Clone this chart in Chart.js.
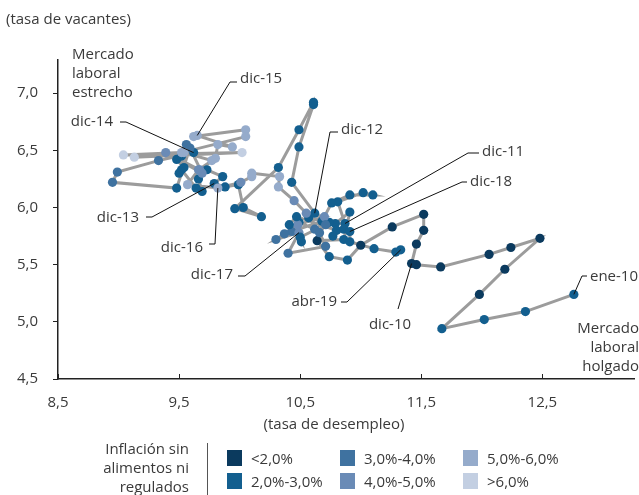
<!DOCTYPE html>
<html lang="es">
<head>
<meta charset="utf-8">
<script src="https://cdn.jsdelivr.net/npm/chart.js@4.4.1/dist/chart.umd.min.js"></script>
<style>
  html, body { margin: 0; padding: 0; background: #fff; }
  #curvaBeveridge { display: block; }
</style>
</head>
<body>
<canvas id="curvaBeveridge" width="639" height="495"></canvas>
<script>
// ene-10 ... abr-19, mensual
const desempleo = [
    12.76, 12.36, 12.02, 11.67, 11.98, 12.19, 12.48, 12.24, 12.06, 11.66, 11.46, 11.42,
    11.46, 11.52, 11.52, 11.26, 11.00, 10.89, 10.74, 10.64, 10.86, 10.91, 10.79, 10.87,
    10.81, 11.02, 11.10, 10.91, 10.76, 10.68, 10.43, 10.49, 10.62, 10.74, 10.57, 10.62,
    10.43, 10.49, 10.61, 10.61, 10.49, 10.32, 9.96, 10.18, 10.03, 9.99, 9.88, 9.79,
    9.86, 9.73, 9.66, 9.69, 9.64, 9.52, 9.50, 9.54, 9.48, 9.52, 9.56, 9.62,
    9.33, 8.99, 8.95, 9.48, 9.59, 9.69, 9.39, 9.67, 9.80, 9.82, 9.94, 9.65,
    9.62, 10.05, 10.05, 9.52, 9.04, 10.02, 9.13, 9.54, 9.77, 9.66, 9.57, 9.82,
    10.01, 10.10, 10.10, 10.33, 10.32, 10.45, 10.55, 10.70, 10.48, 10.37, 10.30, 10.49,
    10.40, 10.71, 10.66, 10.71, 10.50, 10.51, 10.41, 10.47, 10.80, 10.77, 10.86, 10.91,
    10.91, 11.11, 11.29, 11.33
];

const vacantes = [
    5.24, 5.09, 5.02, 4.94, 5.24, 5.46, 5.73, 5.65, 5.59, 5.48, 5.50, 5.51,
    5.68, 5.80, 5.94, 5.83, 5.67, 5.54, 5.57, 5.71, 5.72, 5.96, 5.86, 5.86,
    6.05, 6.13, 6.11, 6.11, 6.04, 5.88, 5.79, 5.87, 5.81, 5.87, 5.91, 5.95,
    6.22, 6.53, 6.90, 6.92, 6.68, 6.35, 5.99, 5.92, 6.00, 6.20, 6.18, 6.21,
    6.27, 6.33, 6.25, 6.14, 6.17, 6.33, 6.30, 6.35, 6.42, 6.45, 6.55, 6.48,
    6.41, 6.31, 6.22, 6.17, 6.52, 6.30, 6.48, 6.33, 6.43, 6.55, 6.53, 6.63,
    6.62, 6.68, 6.62, 6.48, 6.46, 6.48, 6.44, 6.48, 6.41, 6.33, 6.20, 6.17,
    6.22, 6.27, 6.30, 6.27, 6.18, 6.06, 5.95, 5.92, 5.85, 5.77, 5.72, 5.78,
    5.60, 5.66, 5.78, 5.85, 5.74, 5.70, 5.85, 5.92, 5.80, 5.75, 5.81, 5.79,
    5.70, 5.64, 5.61, 5.63
];

// indice del rango de inflacion de cada mes
const rangoMes = [
    1, 1, 1, 1, 0, 0, 0, 0, 0, 0, 0, 0,
    0, 0, 0, 0, 0, 1, 1, 0, 1, 1, 1, 1,
    1, 1, 1, 1, 1, 1, 2, 1, 2, 1, 1, 1,
    1, 1, 1, 1, 1, 1, 1, 1, 1, 1, 1, 1,
    1, 1, 1, 1, 1, 1, 1, 1, 1, 1, 2, 1,
    2, 2, 2, 1, 2, 3, 3, 3, 4, 4, 4, 4,
    4, 4, 4, 4, 5, 5, 5, 4, 4, 3, 4, 4,
    3, 4, 4, 4, 4, 3, 3, 3, 3, 2, 2, 3,
    2, 2, 2, 2, 1, 1, 1, 1, 1, 1, 1, 1,
    1, 1, 1, 1
];

const rangosInflacion = ['<2,0%', '2,0%-3,0%', '3,0%-4,0%', '4,0%-5,0%', '5,0%-6,0%', '>6,0%'];
const ticksX = [8.5, 9.5, 10.5, 11.5, 12.5];
const ticksY = [4.5, 5.0, 5.5, 6.0, 6.5, 7.0];

const etiquetasMes = ['ene-10', 'dic-10', 'dic-11', 'dic-12', 'dic-13', 'dic-14', 'dic-15', 'dic-16', 'dic-17', 'dic-18', 'abr-19'];
const indiceEtiqueta = [0, 11, 23, 35, 47, 59, 71, 83, 95, 107, 111];

document.addEventListener("DOMContentLoaded", function () {
    const ctx = document.getElementById('curvaBeveridge').getContext('2d');

    const colores = ['#0b3a5e', '#135f8f', '#3f72a0', '#6a8bb6', '#95abcb', '#c3cfe2'];
    const colorTexto = '#3a3a3a';
    const fuente = "'Open Sans', sans-serif";

    // donde va cada etiqueta y su guia (pixeles del lienzo)
    const posEtiqueta = {
        'ene-10': { x: 590, y: 277, align: 'left', guia: [[587, 276], [582, 276]] },
        'dic-10': { x: 390, y: 325, align: 'center', guia: [[398, 309]] },
        'dic-11': { x: 482, y: 152, align: 'left', guia: [[479, 153], [468, 153]] },
        'dic-12': { x: 341, y: 130, align: 'left', guia: [[338, 132], [330, 132]] },
        'dic-13': { x: 139, y: 218, align: 'right', guia: [[146, 217], [152, 217]] },
        'dic-14': { x: 113, y: 122, align: 'right', guia: [[120, 122], [126, 122]] },
        'dic-15': { x: 240, y: 79, align: 'left', guia: [[237, 82], [230, 82]] },
        'dic-16': { x: 203, y: 248, align: 'right', guia: [[209, 244], [215, 244]] },
        'dic-17': { x: 233, y: 275, align: 'right', guia: [[238, 276], [245, 276]] },
        'dic-18': { x: 470, y: 182, align: 'left', guia: [[467, 182], [462, 182]] },
        'abr-19': { x: 337, y: 302, align: 'right', guia: [[341, 302], [347, 302]] }
    };

    function formato(v) {
        return v.toFixed(1).replace('.', ',');
    }

    const textosExtra = {
        id: 'textosExtra',
        afterDatasetsDraw(chart) {
            const c = chart.ctx;
            const sx = chart.scales.x;
            const sy = chart.scales.y;
            c.save();

            // marcas del eje x hacia adentro
            c.strokeStyle = '#222';
            c.lineWidth = 1;
            ticksX.forEach(v => {
                const px = Math.round(sx.getPixelForValue(v)) + 0.5;
                c.beginPath();
                c.moveTo(px, sy.bottom);
                c.lineTo(px, sy.bottom - 5);
                c.stroke();
            });

            // etiquetas de meses con guias
            c.font = '15px ' + fuente;
            c.textBaseline = 'middle';
            etiquetasMes.forEach((txt, k) => {
                const p = posEtiqueta[txt];
                const i = indiceEtiqueta[k];
                const px = sx.getPixelForValue(desempleo[i]);
                const py = sy.getPixelForValue(vacantes[i]);
                c.strokeStyle = '#111';
                c.lineWidth = 1;
                c.beginPath();
                c.moveTo(p.guia[0][0], p.guia[0][1]);
                for (let j = 1; j < p.guia.length; j++) c.lineTo(p.guia[j][0], p.guia[j][1]);
                c.lineTo(px, py);
                c.stroke();
                c.fillStyle = colorTexto;
                c.textAlign = p.align;
                c.fillText(txt, p.x, p.y);
            });

            // titulos de los ejes y zonas
            c.textAlign = 'left';
            c.fillText('(tasa de vacantes)', 6, 20);
            ['Mercado', 'laboral', 'estrecho'].forEach((t, j) => c.fillText(t, 72, 55 + j * 19));
            c.textAlign = 'right';
            ['Mercado', 'laboral', 'holgado'].forEach((t, j) => c.fillText(t, 639, 329 + j * 19));
            c.textAlign = 'center';
            c.fillText('(tasa de desempleo)', 334, 425);

            // leyenda
            c.textAlign = 'right';
            ['Inflación sin', 'alimentos ni', 'regulados'].forEach((t, j) => c.fillText(t, 189, 450 + j * 19));
            c.strokeStyle = '#555';
            c.beginPath();
            c.moveTo(207.5, 443);
            c.lineTo(207.5, 495);
            c.stroke();
            const colX = [227, 340, 463];
            const filaY = [458, 481];
            c.textAlign = 'left';
            rangosInflacion.forEach((r, k) => {
                const x = colX[Math.floor(k / 2)];
                const y = filaY[k % 2];
                c.fillStyle = colores[k];
                c.fillRect(x, y - 8, 15, 16);
                c.fillStyle = colorTexto;
                c.fillText(r, x + 24, y + 2);
            });
            c.restore();
        }
    };

    new Chart(ctx, {
        type: 'scatter',
        data: {
            datasets: [{
                data: desempleo.map((x, i) => ({ x: x, y: vacantes[i] })),
                showLine: true,
                borderColor: '#9c9c9c',
                borderWidth: 3,
                pointRadius: 4.6,
                pointHoverRadius: 4.6,
                pointBorderWidth: 0,
                pointBackgroundColor: rangoMes.map(r => colores[r]),
                tension: 0
            }]
        },
        options: {
            responsive: false,
            animation: false,
            layout: { padding: { top: 60, right: 4, left: 0, bottom: 0 } },
            plugins: {
                legend: { display: false },
                tooltip: { enabled: false }
            },
            scales: {
                x: {
                    type: 'linear',
                    min: 8.5,
                    max: 13.26,
                    afterBuildTicks: s => { s.ticks = ticksX.map(v => ({ value: v })); },
                    afterFit: s => { s.height = 116; },
                    grid: { display: false, drawTicks: false },
                    border: { display: true, color: '#222', width: 1.5 },
                    ticks: {
                        padding: 15,
                        color: colorTexto,
                        font: { family: fuente, size: 15 },
                        callback: v => formato(v)
                    }
                },
                y: {
                    type: 'linear',
                    min: 4.5,
                    max: 7.29,
                    afterBuildTicks: s => { s.ticks = ticksY.map(v => ({ value: v })); },
                    afterFit: s => { s.width = 58; },
                    grid: { drawOnChartArea: false, drawTicks: true, tickLength: 5, tickColor: '#222' },
                    border: { display: true, color: '#222', width: 1.5 },
                    ticks: {
                        padding: 15,
                        color: colorTexto,
                        font: { family: fuente, size: 15 },
                        callback: v => formato(v)
                    }
                }
            }
        },
        plugins: [textosExtra]
    });
});
</script>
</body>
</html>
